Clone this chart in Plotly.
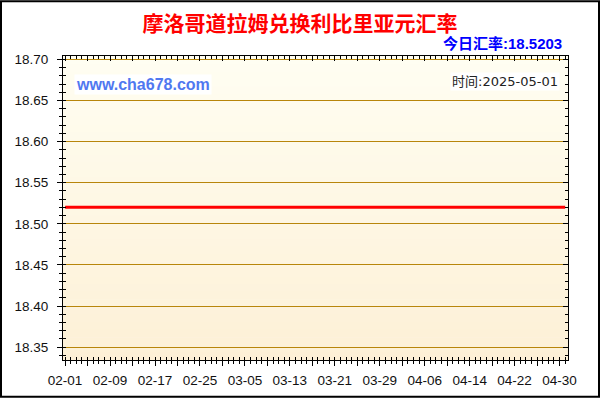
import plotly.graph_objects as go

# ---------------- data ----------------
feb_days = ["2025-02-%02d" % d for d in range(1, 29)]
mar_days = ["2025-03-%02d" % d for d in range(1, 32)]
apr_days = ["2025-04-%02d" % d for d in range(1, 31)]
may_days = ["2025-05-01"]
dates = feb_days + mar_days + apr_days + may_days

rates = [
    18.5203, 18.5203, 18.5203, 18.5203, 18.5203, 18.5203, 18.5203, 18.5203, 18.5203, 18.5203,
    18.5203, 18.5203, 18.5203, 18.5203, 18.5203, 18.5203, 18.5203, 18.5203, 18.5203, 18.5203,
    18.5203, 18.5203, 18.5203, 18.5203, 18.5203, 18.5203, 18.5203, 18.5203, 18.5203, 18.5203,
    18.5203, 18.5203, 18.5203, 18.5203, 18.5203, 18.5203, 18.5203, 18.5203, 18.5203, 18.5203,
    18.5203, 18.5203, 18.5203, 18.5203, 18.5203, 18.5203, 18.5203, 18.5203, 18.5203, 18.5203,
    18.5203, 18.5203, 18.5203, 18.5203, 18.5203, 18.5203, 18.5203, 18.5203, 18.5203, 18.5203,
    18.5203, 18.5203, 18.5203, 18.5203, 18.5203, 18.5203, 18.5203, 18.5203, 18.5203, 18.5203,
    18.5203, 18.5203, 18.5203, 18.5203, 18.5203, 18.5203, 18.5203, 18.5203, 18.5203, 18.5203,
    18.5203, 18.5203, 18.5203, 18.5203, 18.5203, 18.5203, 18.5203, 18.5203, 18.5203, 18.5203,
]

title_text = "摩洛哥道拉姆兑换利比里亚元汇率"
today_rate_text = "今日汇率:18.5203"
site_text = "www.cha678.com"
time_text = "时间:2025-05-01"

x_range = ["2025-01-31 15:00", "2025-05-01 12:00"]
y_range = [18.3343, 18.7042]

# ---------------- layout geometry ----------------
W, H = 600, 400
L, R, T, B = 63, 32, 56, 38
PW, PH = W - L - R, H - T - B


def px(xp):
    return (xp - L) / PW


def py(yp):
    return (H - B - yp) / PH


DAY = 86400000
tickfont = dict(family="Liberation Sans, Arial, sans-serif", size=13.5, color="#111111")

fig = go.Figure()
fig.add_trace(go.Scatter(x=dates, y=rates, mode="lines",
                         line=dict(color="#FF0000", width=3),
                         showlegend=False, hoverinfo="skip"))
# invisible copies to anchor the mirrored axes
fig.add_trace(go.Scatter(x=dates, y=rates, mode="lines", opacity=0,
                         xaxis="x2", yaxis="y2", showlegend=False, hoverinfo="skip"))
fig.add_trace(go.Scatter(x=dates, y=rates, mode="lines", opacity=0,
                         xaxis="x3", yaxis="y3", showlegend=False, hoverinfo="skip"))

common_x = dict(type="date", range=x_range, dtick=4 * DAY, tick0="2025-02-01",
                showgrid=False, zeroline=False, linecolor="black", linewidth=1,
                tickcolor="black", tickwidth=1)
common_y = dict(range=y_range, dtick=0.05, tick0=0, zeroline=False,
                linecolor="black", linewidth=1, tickcolor="black", tickwidth=1)

fig.update_layout(
    width=W, height=H,
    margin=dict(l=L, r=R, t=T, b=B, pad=0),
    paper_bgcolor="white",
    plot_bgcolor="rgba(0,0,0,0)",
    showlegend=False,
    title=dict(text=title_text, x=0.5, xref="container", xanchor="center",
               y=1 - 24 / H, yref="container", yanchor="middle",
               font=dict(family="Noto Sans CJK SC", size=21, color="#FF0000", weight="bold")),
    xaxis=dict(**common_x, showline=True, ticks="outside", ticklen=5,
               ticklabelstep=2, tickformat="%m-%d", tickfont=tickfont,
               ticklabelstandoff=3,
               minor=dict(dtick=DAY, tick0="2025-02-01", ticks="outside", ticklen=3,
                          tickcolor="black", showgrid=False)),
    xaxis2=dict(**common_x, overlaying="x", side="top", anchor="y2", showline=True,
                ticks="inside", ticklen=5, showticklabels=False,
                minor=dict(dtick=DAY, tick0="2025-02-01", ticks="inside", ticklen=3,
                           tickcolor="black", showgrid=False)),
    xaxis3=dict(**common_x, overlaying="x", side="bottom", anchor="y3", showline=False,
                ticks="inside", ticklen=3, showticklabels=False,
                minor=dict(dtick=DAY, tick0="2025-02-01", ticks="inside", ticklen=3,
                           tickcolor="black", showgrid=False)),
    yaxis=dict(**common_y, showline=True, ticks="outside", ticklen=5,
               tickformat=".2f", tickfont=tickfont, ticklabelstandoff=6,
               showgrid=True, gridcolor="#B8860B", gridwidth=1,
               minor=dict(dtick=0.01, ticks="outside", ticklen=3,
                          tickcolor="black", showgrid=False)),
    yaxis2=dict(**common_y, overlaying="y", side="right", anchor="x2", showline=True,
                ticks="inside", ticklen=5, showticklabels=False, showgrid=False,
                minor=dict(dtick=0.01, ticks="inside", ticklen=3,
                           tickcolor="black", showgrid=False)),
    yaxis3=dict(**common_y, overlaying="y", side="left", anchor="x3", showline=False,
                ticks="inside", ticklen=3, showticklabels=False, showgrid=False,
                minor=dict(dtick=0.01, ticks="inside", ticklen=3,
                           tickcolor="black", showgrid=False)),
)

# gradient plot background (light cream to beige)
top_c = (255, 254, 242)
bot_c = (253, 240, 214)
N = 40
shapes = []
for i in range(N):
    t = (i + 0.5) / N
    c = tuple(round(top_c[k] + (bot_c[k] - top_c[k]) * t) for k in range(3))
    shapes.append(dict(type="rect", xref="paper", yref="paper",
                       x0=0, x1=1, y0=1 - (i + 1) / N - 0.002, y1=1 - i / N,
                       fillcolor="rgb(%d,%d,%d)" % c, line=dict(width=0), layer="below"))
# outer black frame around the image
shapes.append(dict(type="rect", xref="paper", yref="paper",
                   x0=px(1), x1=px(599), y0=py(399), y1=py(1),
                   line=dict(color="black", width=2), fillcolor="rgba(0,0,0,0)",
                   layer="above"))
fig.update_layout(shapes=shapes)

fig.add_annotation(text=today_rate_text, xref="paper", yref="paper",
                   x=px(564), y=py(43), xanchor="right", yanchor="middle", showarrow=False,
                   font=dict(family="Liberation Sans, Noto Sans CJK SC", size=15,
                             color="#0000FF", weight="bold"))
fig.add_annotation(text=site_text, xref="paper", yref="paper",
                   x=px(74), y=py(85), xanchor="left", yanchor="middle", showarrow=False,
                   bgcolor="white", borderpad=1,
                   font=dict(family="Liberation Sans, Arial", size=16,
                             color="#5078F0", weight="bold"))
fig.add_annotation(text=time_text, xref="paper", yref="paper",
                   x=px(560), y=py(82), xanchor="right", yanchor="middle", showarrow=False,
                   bgcolor="white", borderpad=1,
                   font=dict(family="DejaVu Sans, Noto Sans CJK SC", size=13, color="#222222"))

fig.write_html("out.html",
               config={"displayModeBar": False, "staticPlot": True},
               post_script="document.body.style.margin='0';document.body.style.overflow='hidden';")
